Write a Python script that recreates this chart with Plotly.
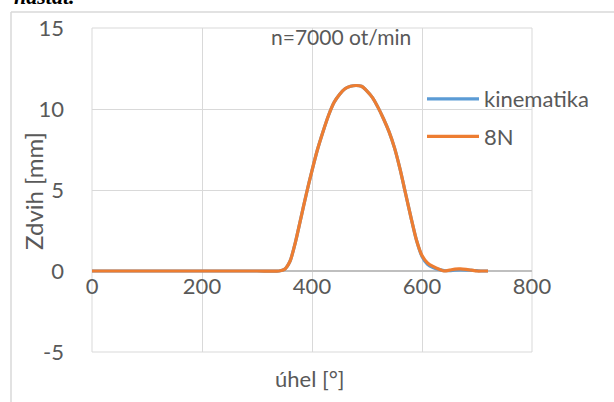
import plotly.graph_objects as go

# ---- data ----
uhel = [0, 100, 200, 300, 340, 350, 360, 370, 380, 390, 400, 410, 420, 430, 440, 450, 460, 470, 480, 490,
        500, 510, 520, 530, 540, 550, 560, 570, 580, 590, 600, 610, 620, 630, 640, 650, 660, 670, 680, 690,
        700, 710, 720]
kinematika = [0, 0, 0, 0, 0, 0.1, 0.6, 1.8, 3.3, 4.8, 6.2, 7.5, 8.6, 9.6, 10.4, 10.9, 11.25, 11.4, 11.45, 11.4,
              11.1, 10.7, 10.1, 9.4, 8.6, 7.6, 6.3, 4.8, 3.3, 1.9, 0.9, 0.42, 0.22, 0.1, 0.02, 0.02, 0.05, 0.07, 0.06, 0.04,
              0.02, 0.0, 0.0]
sila_8N = [0, 0, 0, 0, 0, 0.1, 0.6, 1.8, 3.3, 4.8, 6.2, 7.5, 8.6, 9.6, 10.4, 10.9, 11.25, 11.4, 11.45, 11.4,
           11.1, 10.7, 10.1, 9.4, 8.6, 7.6, 6.3, 4.8, 3.3, 1.9, 0.95, 0.5, 0.28, 0.12, 0.0, 0.05, 0.12, 0.13, 0.1, 0.05,
           0.0, 0.0, 0.0]
x_ticks = [0, 200, 400, 600, 800]
y_ticks = [-5, 0, 5, 10, 15]
y_tick_labels = ["-5", "0", "5", "10", "15"]
nazev = "n=7000 ot/min"

W, H = 614, 402
ML, MR, MT, MB = 92, 82, 28, 50
PW, PH = W - ML - MR, H - MT - MB

def px_x(p):
    return (p - ML) / PW

def px_y(p):
    return (H - MB - p) / PH

FONT = "Lato"
GREY = "#595959"
GRID = "#d9d9d9"
FS = 22

fig = go.Figure()
fig.add_trace(go.Scatter(x=uhel, y=kinematika, mode="lines", name="kinematika",
                         line=dict(color="#5B9BD5", width=3.2, shape="spline", smoothing=0.7), legendgroup="a"))
fig.add_trace(go.Scatter(x=uhel, y=sila_8N, mode="lines", name="8N",
                         line=dict(color="#ED7D31", width=3.2, shape="spline", smoothing=0.7), legendgroup="b"))

fig.update_layout(
    width=W, height=H,
    margin=dict(l=ML, r=MR, t=MT, b=MB),
    paper_bgcolor="white", plot_bgcolor="white",
    font=dict(family=FONT, color=GREY, size=FS),
    showlegend=True,
    legend=dict(x=px_x(422), y=px_y(78), xanchor="left", yanchor="top",
                bgcolor="rgba(0,0,0,0)", font=dict(size=FS, color=GREY),
                tracegroupgap=6, itemwidth=52),
    xaxis=dict(range=[0, 800], tickvals=x_ticks, showgrid=True, gridcolor=GRID, gridwidth=1,
               zeroline=False, showline=False, anchor="free", position=0.25,
               ticks="", tickfont=dict(size=FS, color=GREY)),
    yaxis=dict(range=[-5, 15], tickvals=y_ticks, ticktext=y_tick_labels, showgrid=True, gridcolor=GRID,
               gridwidth=1, zeroline=True, zerolinecolor="#bfbfbf", zerolinewidth=1.5, showline=False,
               ticks="", ticklabelstandoff=27, tickfont=dict(size=FS, color=GREY)),
    shapes=[
        dict(type="rect", xref="paper", yref="paper", x0=0, x1=1, y0=0, y1=1, layer="below",
             line=dict(color=GRID, width=1)),
        dict(type="line", xref="paper", yref="paper", x0=px_x(11), x1=px_x(620), y0=px_y(12), y1=px_y(12),
             line=dict(color=GRID, width=1.5)),
        dict(type="line", xref="paper", yref="paper", x0=px_x(11), x1=px_x(11), y0=px_y(12), y1=px_y(410),
             line=dict(color=GRID, width=1.5)),
    ],
    annotations=[
        dict(text=nazev, xref="paper", yref="paper", x=px_x(341), y=px_y(36), showarrow=False,
             xanchor="center", yanchor="middle", font=dict(size=21, color=GREY)),
        dict(text="úhel [°]", xref="paper", yref="paper", x=px_x(310), y=px_y(378), showarrow=False,
             xanchor="center", yanchor="middle", font=dict(size=FS, color=GREY)),
        dict(text="Zdvih [mm]", xref="paper", yref="paper", x=px_x(33), y=px_y(191), showarrow=False,
             textangle=-90, xanchor="center", yanchor="middle", font=dict(size=24, color=GREY)),
        dict(text="<b><i>nastat.</i></b>", xref="paper", yref="paper", x=px_x(12), y=px_y(-4), showarrow=False,
             xanchor="left", yanchor="middle", font=dict(size=22, color="black", family="Liberation Serif")),
    ],
)

fig.write_html("out.html")
